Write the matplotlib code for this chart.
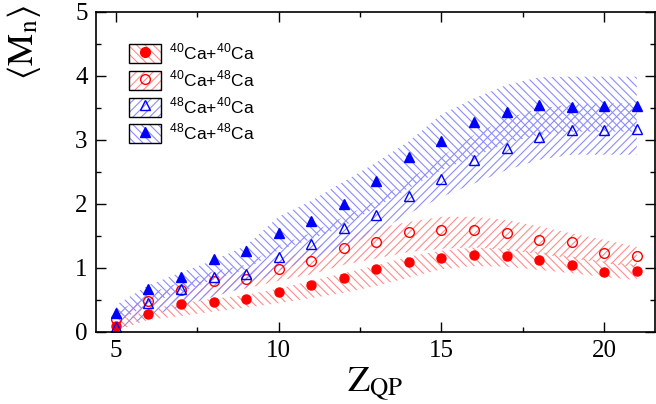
import numpy as np
import matplotlib
matplotlib.use('Agg')
import matplotlib.pyplot as plt
from matplotlib.patches import Patch
from matplotlib.lines import Line2D
from matplotlib.ticker import MultipleLocator

plt.rcParams['font.family'] = ['Liberation Serif', 'DejaVu Serif']
plt.rcParams['mathtext.fontset'] = 'stix'
plt.rcParams['hatch.linewidth'] = 0.8

# charge of the quasi-projectile
Z = [5, 6, 7, 8, 9, 10, 11, 12, 13, 14, 15, 16, 17, 18, 19, 20, 21]

# measured <Mn>
ca4040 = [0.09, 0.28, 0.43, 0.47, 0.52, 0.62, 0.73, 0.85, 0.98, 1.09, 1.16, 1.20, 1.19, 1.12, 1.05, 0.93, 0.96]
ca4048 = [0.20, 0.49, 0.65, 0.80, 0.83, 0.98, 1.11, 1.31, 1.40, 1.56, 1.59, 1.59, 1.54, 1.44, 1.40, 1.23, 1.18]
ca4840 = [0.08, 0.45, 0.67, 0.86, 0.90, 1.17, 1.37, 1.62, 1.83, 2.13, 2.39, 2.69, 2.87, 3.05, 3.15, 3.16, 3.17]
ca4848 = [0.30, 0.67, 0.86, 1.14, 1.27, 1.54, 1.74, 2.00, 2.36, 2.74, 2.98, 3.28, 3.44, 3.55, 3.51, 3.53, 3.53]

# calculated bands (lower / upper)
band4040_lo = [0.02, 0.19, 0.25, 0.32, 0.38, 0.45, 0.53, 0.61, 0.72, 0.85, 0.98, 1.03, 1.02, 0.97, 0.92, 0.86, 0.81]
band4040_hi = [0.15, 0.35, 0.45, 0.52, 0.58, 0.68, 0.80, 0.92, 1.04, 1.18, 1.27, 1.32, 1.30, 1.25, 1.18, 1.10, 1.05]
band4048_lo = [0.10, 0.35, 0.48, 0.60, 0.68, 0.80, 0.90, 1.05, 1.15, 1.25, 1.30, 1.32, 1.28, 1.22, 1.15, 1.08, 1.00]
band4048_hi = [0.25, 0.55, 0.72, 0.85, 0.95, 1.12, 1.30, 1.49, 1.62, 1.72, 1.80, 1.80, 1.75, 1.65, 1.54, 1.44, 1.33]
band4840_lo = [0.03, 0.24, 0.40, 0.55, 0.70, 0.97, 1.12, 1.33, 1.55, 1.85, 2.11, 2.32, 2.53, 2.69, 2.77, 2.77, 2.77]
band4840_hi = [0.30, 0.60, 0.78, 0.95, 1.05, 1.35, 1.55, 1.80, 2.05, 2.38, 2.74, 3.08, 3.34, 3.49, 3.56, 3.57, 3.57]
band4848_lo = [0.12, 0.45, 0.62, 0.82, 0.98, 1.28, 1.45, 1.65, 1.95, 2.25, 2.53, 2.74, 2.95, 3.08, 3.13, 3.13, 3.13]
band4848_hi = [0.42, 0.73, 0.93, 1.12, 1.35, 1.80, 2.05, 2.35, 2.65, 2.98, 3.40, 3.65, 3.86, 3.98, 3.99, 3.99, 3.99]

labels = [r'$^{\mathregular{40}}$Ca+$^{\mathregular{40}}$Ca',
          r'$^{\mathregular{40}}$Ca+$^{\mathregular{48}}$Ca',
          r'$^{\mathregular{48}}$Ca+$^{\mathregular{40}}$Ca',
          r'$^{\mathregular{48}}$Ca+$^{\mathregular{48}}$Ca']

red_h = '#ff8c8c'
blue_h = '#8c8cff'

fig = plt.figure(figsize=(6.56, 4.04), dpi=100)
ax = fig.add_axes([96/656, 72/404, 559/656, 320/404])

# hatched bands
ax.fill_between(Z, band4040_lo, band4040_hi, facecolor='none', edgecolor=red_h, hatch='\\\\\\\\', linewidth=0)
ax.fill_between(Z, band4048_lo, band4048_hi, facecolor='none', edgecolor=red_h, hatch='////', linewidth=0)
ax.fill_between(Z, band4840_lo, band4840_hi, facecolor='none', edgecolor=blue_h, hatch='////', linewidth=0)
ax.fill_between(Z, band4848_lo, band4848_hi, facecolor='none', edgecolor=blue_h, hatch='\\\\\\\\', linewidth=0)

# data points
ax.plot(Z, ca4040, 'o', color='red', ms=6.5, ls='none')
ax.plot(Z, ca4048, 'o', mfc='none', mec='red', ms=7, mew=1, ls='none')
ax.plot(Z, ca4840, '^', mfc='none', mec='blue', ms=7, mew=1, ls='none')
ax.plot(Z, ca4848, '^', color='blue', ms=7, ls='none')

ax.set_xlim(4.39, 21.56)
ax.set_ylim(0, 5)
ax.xaxis.set_major_locator(MultipleLocator(5))
ax.xaxis.set_minor_locator(MultipleLocator(2.5))
ax.yaxis.set_major_locator(MultipleLocator(1))
ax.yaxis.set_minor_locator(MultipleLocator(0.5))
ax.tick_params(which='both', direction='in', top=True, right=True, labelsize=18)
ax.tick_params(which='major', length=7, width=1, pad=6)
ax.tick_params(which='minor', length=3.5, width=1)
for sp in ax.spines.values():
    sp.set_linewidth(1.2)

ax.set_xlabel(r'$\mathrm{Z}_{\mathrm{QP}}$', fontsize=26, labelpad=2)
fig.text(24/656, 1-42/404, r'$\langle\mathrm{M}_{\mathrm{n}}\rangle$', rotation=90,
         ha='center', va='center', fontsize=26)

# legend: hatch box + black frame + marker
handles = []
specs = [(red_h, '\\\\\\\\', 'o', 'red', 'red'),
         (red_h, '////', 'o', 'none', 'red'),
         (blue_h, '////', '^', 'none', 'blue'),
         (blue_h, '\\\\\\\\', '^', 'blue', 'blue')]
for hc, h, m, fc, ec in specs:
    p1 = Patch(facecolor='none', edgecolor=hc, hatch=h, linewidth=0)
    p2 = Patch(facecolor='none', edgecolor='black', linewidth=1)
    mk = Line2D([], [], marker=m, ls='none', mfc=fc, mec=ec, ms=7, mew=1)
    handles.append((p1, p2, mk))

ax.legend(handles, labels, loc='upper left', bbox_to_anchor=(0.059, 0.905), frameon=False,
          borderpad=0, borderaxespad=0, handlelength=1.85, handleheight=1.31,
          handletextpad=0.45, labelspacing=0.35,
          prop={'family': 'Liberation Sans', 'size': 12.5})

fig.savefig('out.png', dpi=100)
